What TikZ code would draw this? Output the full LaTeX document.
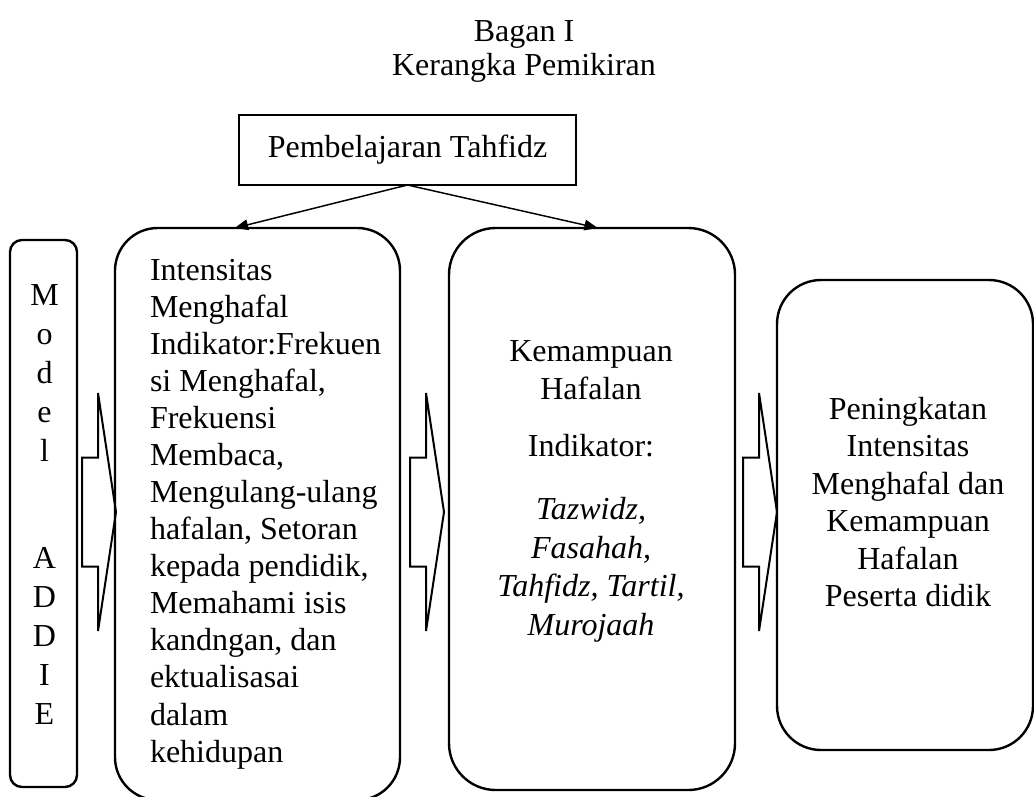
\documentclass[tikz,border=0pt]{standalone}
\usepackage{fontspec}
\setmainfont{Liberation Serif}
\usetikzlibrary{arrows.meta,calc}
\begin{document}
\begin{tikzpicture}[x=0.75pt,y=-0.75pt,
  box/.style={draw, line width=1.8pt, inner sep=0pt, outer sep=0pt},
  txt/.style={font=\fontsize{24}{27.8}\selectfont, inner sep=0pt, outer sep=0pt},
  conn/.style={line width=1.1pt, -{Triangle[length=10pt,width=8pt]}},
  blockline/.style={line width=1.5pt},
  blockarr/.pic={\draw[blockline] (0,-54.5) -- (16,-54.5) -- (16,-119) -- (34,0) -- (16,119) -- (16,54.5) -- (0,54.5) -- cycle;}
]
\useasboundingbox (0,0) rectangle (1034,796);

% title
\node[txt, align=center, anchor=north, font=\fontsize{24}{24.8}\selectfont] (title) at (524,21) {Bagan I\\Kerangka Pemikiran};

% top box
\node[box, minimum width=252.75pt, minimum height=52.5pt] (top) at (407.5,150) {};
\node[txt] (toptxt) at (top) {Pembelajaran Tahfidz};

% boxes
\node[box, rounded corners=9pt, minimum width=50.25pt, minimum height=410.25pt] (b1) at (43.5,513.5) {};
\node[box, rounded corners=32pt, minimum width=213.75pt, minimum height=429pt] (b2) at (257.5,514) {};
\node[box, rounded corners=35pt, minimum width=214.5pt, minimum height=421.5pt] (b3) at (592,509) {};
\node[box, rounded corners=33pt, minimum width=192pt, minimum height=352.5pt] (b4) at (905,515) {};

% texts
\node[txt, align=center, anchor=north, font=\fontsize{24}{29.25}\selectfont] (t1) at (44.5,285)
  {M\\o\\d\\e\\l\\[51pt]A\\D\\D\\I\\E};
\node[txt, align=left, anchor=north west] (t2) at (150,259)
  {Intensitas\\Menghafal\\Indikator:Frekuen\\si Menghafal,\\Frekuensi\\Membaca,\\Mengulang-ulang\\hafalan, Setoran\\kepada pendidik,\\Memahami isis\\kandngan, dan\\ektualisasai\\dalam\\kehidupan};
\node[txt, align=center, anchor=north] (t3) at (591,341)
  {Kemampuan\\Hafalan\\[15pt]Indikator:\\[20pt]\textit{Tazwidz,}\\[1pt]\textit{Fasahah,}\\[1pt]\textit{Tahfidz, Tartil,}\\[1pt]\textit{Murojaah}};
\node[txt, align=center, anchor=north, font=\fontsize{24}{28.1}\selectfont] (t4) at (908,397)
  {Peningkatan\\Intensitas\\Menghafal dan\\Kemampuan\\Hafalan\\Peserta didik};

% connectors
\draw[conn] (top.south) -- ($(b2.north west)!0.42!(b2.north east)$);
\draw[conn] (top.south) -- ($(b3.north west)!0.52!(b3.north east)$);

% block arrows
\pic at (82,512) {blockarr};
\pic at (410,512) {blockarr};
\pic at (743,512) {blockarr};
\end{tikzpicture}
\end{document}
